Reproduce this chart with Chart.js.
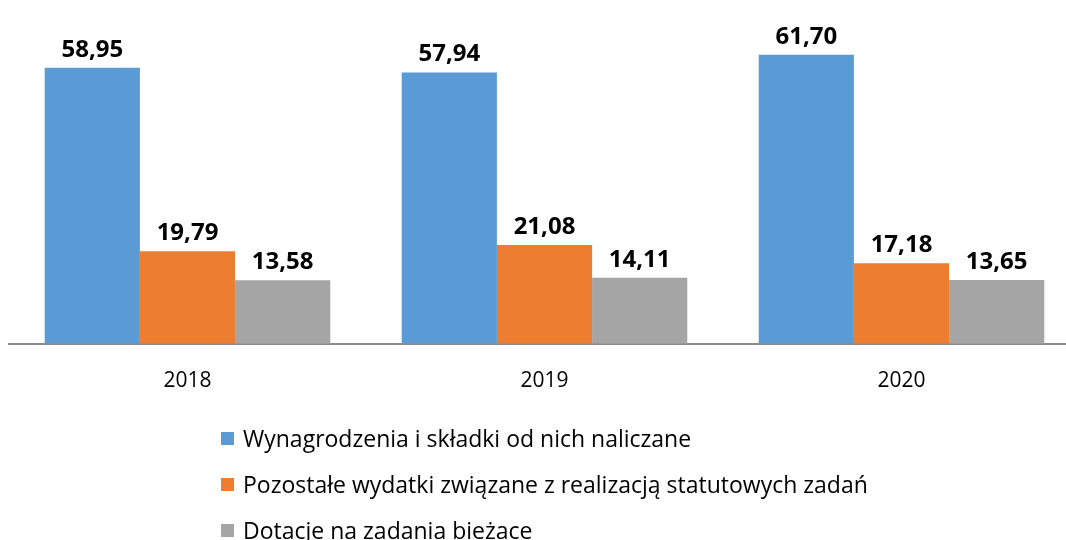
<!DOCTYPE html>
<html lang="pl">
<head>
<meta charset="utf-8">
<script src="https://cdn.jsdelivr.net/npm/chart.js@4/dist/chart.umd.min.js"></script>
<style>
  html, body { margin: 0; padding: 0; background: #fff; }
  #wrap { position: relative; width: 1066px; height: 540px; overflow: hidden; }
  #chartBox { position: absolute; left: 0; top: 0; width: 1080px; height: 426px; }
  #legend { position: absolute; left: 221px; top: 415px; font-family: "Open Sans", sans-serif;
            font-size: 23px; color: #000; }
  .lg-row { display: flex; align-items: center; height: 46px; }
  .lg-box { width: 13px; height: 13px; margin-right: 9px; }
</style>
</head>
<body>
<div id="wrap">
  <div id="chartBox"><canvas id="c" width="1080" height="426"></canvas></div>
  <div id="legend"></div>
</div>
<script>
/* ===== data ===== */
const years        = ['2018', '2019', '2020'];
const seriesNames  = [
  'Wynagrodzenia i składki od nich naliczane',
  'Pozostałe wydatki związane z realizacją statutowych zadań',
  'Dotacje na zadania bieżace'
];
const wynagrodzenia = [58.95, 57.94, 61.70];
const pozostale     = [19.79, 21.08, 17.18];
const dotacje       = [13.58, 14.11, 13.65];
const colors        = ['#5B9BD5', '#ED7D31', '#A5A5A5'];

/* ===== value labels above bars ===== */
const barLabels = {
  id: 'barLabels',
  afterDatasetsDraw (chart) {
    const ctx = chart.ctx;
    ctx.save();
    ctx.font = 'bold 24px "Open Sans", sans-serif';
    ctx.fillStyle = '#000';
    ctx.textAlign = 'center';
    ctx.textBaseline = 'bottom';
    chart.data.datasets.forEach((ds, i) => {
      chart.getDatasetMeta(i).data.forEach((bar, j) => {
        const txt = ds.data[j].toFixed(2).replace('.', ',');
        ctx.fillText(txt, bar.x, bar.y - 6);
      });
    });
    ctx.restore();
  }
};

const datasets = [wynagrodzenia, pozostale, dotacje].map((d, i) => ({
  label: seriesNames[i],
  data: d,
  backgroundColor: colors[i],
  borderWidth: 0,
  categoryPercentage: 0.8,
  barPercentage: 1.0
}));

new Chart(document.getElementById('c'), {
  type: 'bar',
  data: { labels: years, datasets },
  options: {
    responsive: false,
    animation: false,
    layout: { padding: { top: 16, left: 9, right: 0, bottom: 7 } },
    plugins: { legend: { display: false }, tooltip: { enabled: false } },
    scales: {
      y: { display: false, min: 0, max: 70 },
      x: {
        grid: { display: false, drawTicks: false },
        border: { display: true, color: '#8C8C8C', width: 2 },
        ticks: { color: '#000', padding: 25, font: { family: '"Open Sans", sans-serif', size: 21 } }
      }
    }
  },
  plugins: [barLabels]
});

/* ===== legend (vertical list) ===== */
const lg = document.getElementById('legend');
seriesNames.forEach((name, i) => {
  const row = document.createElement('div');
  row.className = 'lg-row';
  row.innerHTML = `<span class="lg-box" style="background:${colors[i]}"></span><span>${name}</span>`;
  lg.appendChild(row);
});
</script>
</body>
</html>
